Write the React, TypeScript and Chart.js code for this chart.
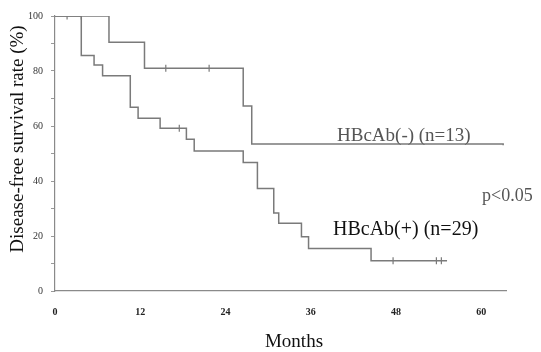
import React, { useEffect, useRef } from "react";
import { Chart, registerables } from "chart.js";

Chart.register(...registerables);

// HBcAb(-) group: step times (months) and survival (%)
const negMonths = [0, 7.6, 12.6, 26.5, 27.7, 63.1];
const negRates = [100, 90.5, 81.0, 67.3, 53.5, 53.0];
const negCensorMonths = [1.7, 3.7, 15.6, 21.7];
const negCensorRates = [100, 100, 81.0, 81.0];

// HBcAb(+) group
const posMonths = [0, 3.7, 5.5, 6.7, 10.6, 11.7, 14.8, 18.5, 19.6, 26.5, 28.5, 30.8, 31.5, 34.7, 35.7, 44.5, 55.2];
const posRates = [100, 85.6, 82.2, 78.3, 66.8, 62.8, 59.2, 55.2, 50.9, 46.7, 37.3, 28.4, 24.6, 19.7, 15.5, 11.0, 11.0];
const posCensorMonths = [17.5, 47.6, 53.7, 54.4];
const posCensorRates = [59.2, 11.0, 11.0, 11.0];

const xTicks = [0, 12, 24, 36, 48, 60];
const yTicks = [0, 20, 40, 60, 80, 100];

const yTitle = "Disease-free survival rate (%)";
const xTitle = "Months";
const negLabel = "HBcAb(-) (n=13)";
const posLabel = "HBcAb(+) (n=29)";
const pLabel = "p<0.05";

const SERIF = '"Liberation Serif", "Times New Roman", serif';

const textPlugin = {
  id: "textPlugin",
  afterDraw(chart: any) {
    const ctx = chart.ctx;
    ctx.save();
    // y title
    ctx.save();
    ctx.translate(18, 139);
    ctx.rotate(-Math.PI / 2);
    ctx.textAlign = "center";
    ctx.textBaseline = "middle";
    ctx.font = `19px ${SERIF}`;
    ctx.fillStyle = "#111";
    ctx.fillText(yTitle, 0, 0);
    ctx.restore();
    // x title
    ctx.textAlign = "center";
    ctx.textBaseline = "alphabetic";
    ctx.font = `19px ${SERIF}`;
    ctx.fillStyle = "#111";
    ctx.fillText(xTitle, 294, 347);
    // curve labels
    ctx.textAlign = "left";
    ctx.font = `19px ${SERIF}`;
    ctx.fillStyle = "#555";
    ctx.fillText(negLabel, 337, 141);
    ctx.font = `20px ${SERIF}`;
    ctx.fillStyle = "#111";
    ctx.fillText(posLabel, 333, 235);
    ctx.font = `18px ${SERIF}`;
    ctx.fillStyle = "#555";
    ctx.fillText(pLabel, 482, 201);
    ctx.restore();
  },
};

export default function App() {
  const ref = useRef<HTMLCanvasElement | null>(null);

  useEffect(() => {
    if (!ref.current) return;
    const lineColor = "#7a7a7a";
    const chart = new Chart(ref.current, {
      type: "line",
      data: {
        datasets: [
          {
            data: negMonths.map((m, i) => ({ x: m, y: negRates[i] })),
            stepped: true,
            borderColor: lineColor,
            borderWidth: 1.5,
            pointRadius: 0,
            fill: false,
          },
          {
            data: posMonths.map((m, i) => ({ x: m, y: posRates[i] })),
            stepped: true,
            borderColor: lineColor,
            borderWidth: 1.5,
            pointRadius: 0,
            fill: false,
          },
          {
            data: negCensorMonths.map((m, i) => ({ x: m, y: negCensorRates[i] })),
            showLine: false,
            pointStyle: "line",
            rotation: 90,
            pointRadius: 3.5,
            borderColor: lineColor,
            borderWidth: 1.2,
          },
          {
            data: posCensorMonths.map((m, i) => ({ x: m, y: posCensorRates[i] })),
            showLine: false,
            pointStyle: "line",
            rotation: 90,
            pointRadius: 3.5,
            borderColor: lineColor,
            borderWidth: 1.2,
          },
        ] as any,
      },
      options: {
        animation: false,
        responsive: false,
        layout: { padding: { top: 16, right: 35, left: 0, bottom: 0 } },
        plugins: { legend: { display: false }, tooltip: { enabled: false } },
        scales: {
          x: {
            type: "linear",
            min: 0,
            max: 63.5,
            afterFit: (s: any) => {
              s.height = 61;
            },
            afterBuildTicks: (s: any) => {
              s.ticks = xTicks.map((v) => ({ value: v }));
            },
            ticks: {
              font: { family: SERIF, size: 10, weight: "bold" },
              color: "#222",
              padding: 15,
              maxRotation: 0,
            },
            grid: { display: false, drawTicks: false, tickLength: 0 },
            border: { display: true, color: "#8a8a8a", width: 1.2 },
          },
          y: {
            type: "linear",
            min: 0,
            max: 100,
            afterFit: (s: any) => {
              s.width = 55;
            },
            afterBuildTicks: (s: any) => {
              const t: any[] = [];
              for (let v = 0; v <= 100; v += 10) t.push({ value: v });
              s.ticks = t;
            },
            ticks: {
              callback: (v: any) => (yTicks.includes(Number(v)) ? String(v) : ""),
              font: { family: SERIF, size: 10 },
              color: "#333",
              padding: 8,
            },
            grid: {
              drawOnChartArea: false,
              drawTicks: true,
              tickLength: 4,
              color: "#999",
            },
            border: { display: true, color: "#8a8a8a", width: 1.2 },
          },
        },
      } as any,
      plugins: [textPlugin],
    });
    return () => chart.destroy();
  }, []);

  return (
    <div style={{ position: "fixed", left: 0, top: 0, width: 541, height: 352, background: "#fff" }}>
      <canvas ref={ref} width={541} height={352} style={{ display: "block" }} />
    </div>
  );
}
